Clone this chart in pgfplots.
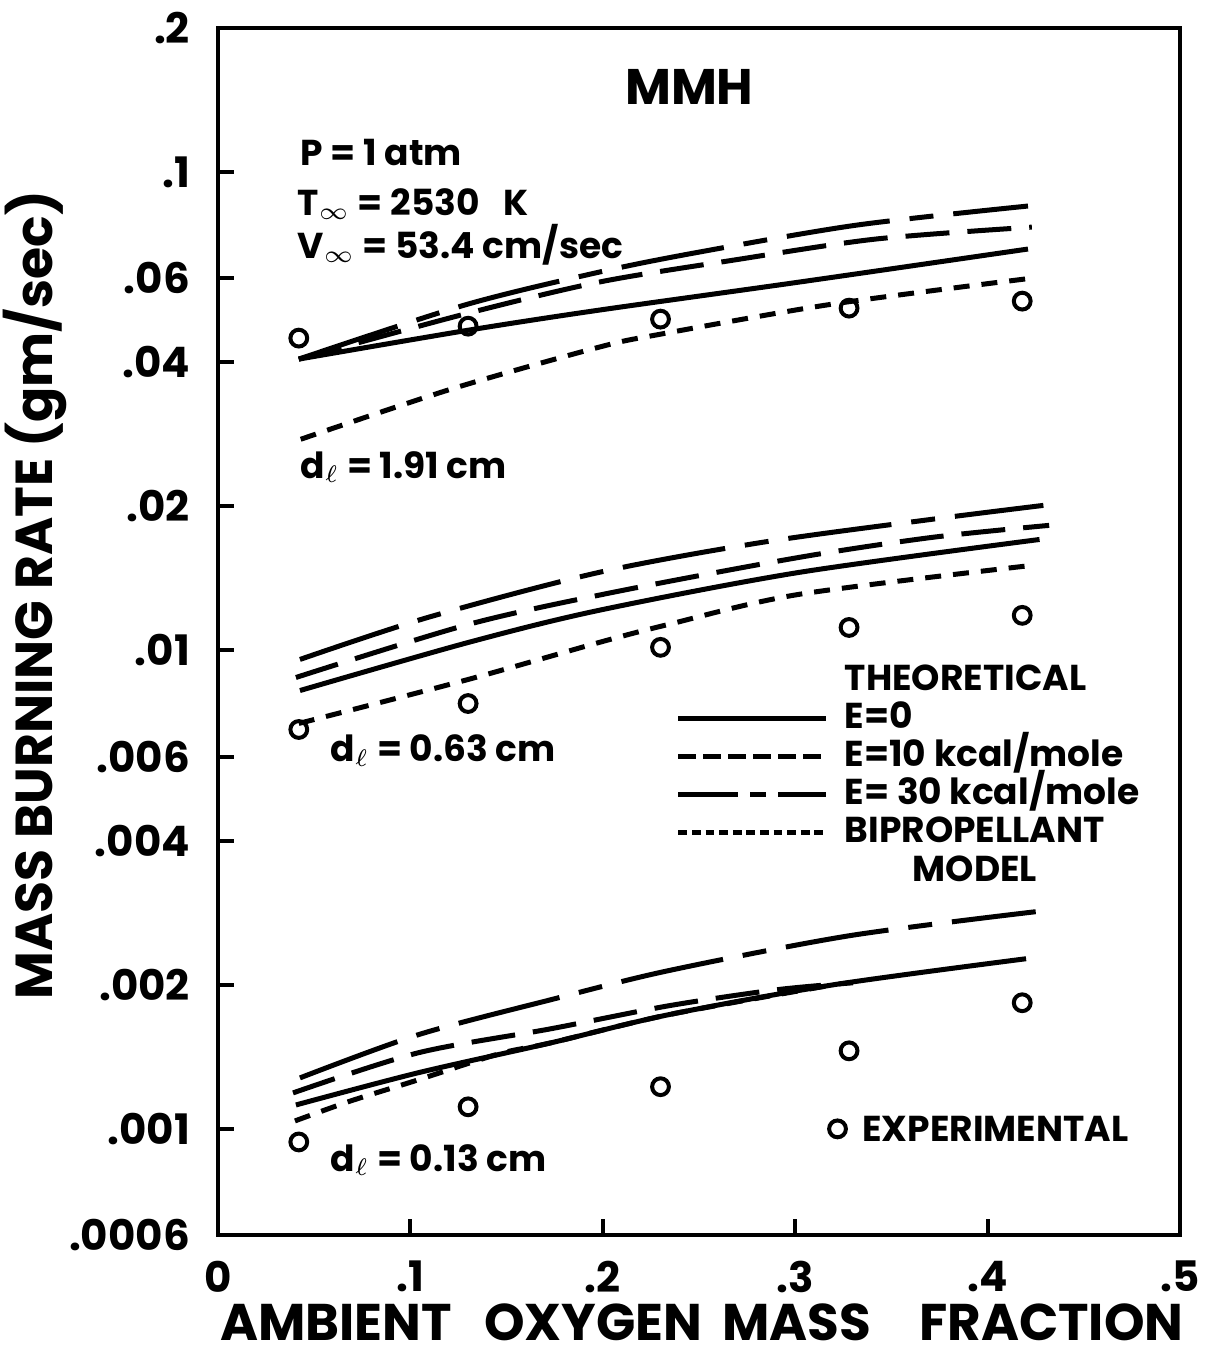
\documentclass[border=0pt]{standalone}
\usepackage{pgfplots}
\pgfplotsset{compat=1.18}
\usepackage{fontspec}
\setmainfont{Poppins}

\pgfplotsset{
  e0/.style={black, line width=1.25pt, solid},
  e10/.style={black, line width=1.25pt, dash pattern=on 11pt off 4.5pt},
  e30/.style={black, line width=1.25pt, dash pattern=on 26pt off 5pt on 6pt off 5pt},
  bip/.style={black, line width=1.25pt, dash pattern=on 4pt off 3pt},
  exper/.style={black, only marks, mark=o, mark size=2.1pt, mark options={line width=1pt, solid}},
}

\begin{document}
\begin{tikzpicture}
\useasboundingbox (-54.5pt,-30.25pt) rectangle (247.5pt,308.75pt);
\begin{axis}[
  at={(0,0)}, anchor=south west,
  scale only axis, width=240.5pt, height=301.75pt,
  xmin=0, xmax=0.5, ymode=log, ymin=0.0006, ymax=0.2,
  axis line style={line width=1pt},
  tick pos=left, tick align=inside, major tick length=4pt,
  every tick/.style={line width=1pt, black},
  yminorticks=false, xminorticks=false,
  /pgf/number format/assume math mode=true,
  xtick={0,0.1,0.2,0.3,0.4,0.5}, xticklabels={0,.1,.2,.3,.4,.5},
  ytick={0.0006,0.001,0.002,0.004,0.006,0.01,0.02,0.04,0.06,0.1,0.2},
  yticklabels={.0006,.001,.002,.004,.006,.01,.02,.04,.06,.1,.2},
  xticklabel style={font=\bfseries\fontsize{10.5}{12}\selectfont, yshift=-3pt},
  yticklabel style={font=\bfseries\fontsize{10.5}{12}\selectfont, xshift=-3.5pt},
  every axis x label/.style={at={(axis description cs:0.503,-0.072)}, anchor=center},
  every axis y label/.style={at={(axis description cs:-0.19,0.53)}, rotate=90, anchor=center},
  xlabel={AMBIENT\hspace{8pt}OXYGEN\hspace{5pt}MASS\hspace{12pt}FRACTION},
  ylabel={MASS BURNING RATE (gm/sec)},
  xlabel style={font=\bfseries\fontsize{12.9}{14}\selectfont, inner sep=0pt},
  ylabel style={font=\bfseries\fontsize{13}{15}\selectfont},
  legend style={draw=none, fill=none, at={(rel axis cs:0.476,0.474)}, anchor=north west,
    inner sep=0pt, outer sep=0pt, row sep=0.5pt,
    font=\bfseries\fontsize{9}{10.8}\selectfont,
    nodes={inner sep=0pt, text height=7pt, text depth=2pt},
    /tikz/every odd column/.append style={column sep=4pt}},
  legend cell align=left,
  legend image code/.code={\draw[#1] (0pt,0pt) -- (37pt,0pt);},
]

% ---------------- d = 1.91 cm ----------------
\addplot[e30, smooth, forget plot] table {
0.042 0.04064
0.128 0.05269
0.198 0.06176
0.250 0.06801
0.332 0.07746
0.421 0.08490
};
\addplot[e10, smooth, forget plot] table {
0.042 0.04064
0.128 0.05045
0.198 0.05887
0.268 0.06545
0.342 0.07244
0.423 0.07671
};
\addplot[e0, smooth, forget plot] table {
0.042 0.04064
0.130 0.04670
0.198 0.05144
0.302 0.05887
0.421 0.06903
};
\addplot[bip, smooth, forget plot] table {
0.043 0.02763
0.121 0.03516
0.198 0.04304
0.230 0.04582
0.319 0.05293
0.423 0.06000
};
\addplot[exper, forget plot] table {
0.042 0.04496
0.130 0.04762
0.230 0.04926
0.328 0.05194
0.418 0.05372
};

% ---------------- d = 0.63 cm ----------------
\addplot[e30, smooth, forget plot] table {
0.0426 0.009576
0.109 0.01172
0.198 0.01456
0.283 0.01683
0.371 0.01880
0.429 0.02010
};
\addplot[e10, smooth, forget plot] table {
0.0405 0.008780
0.130 0.01133
0.205 0.01322
0.302 0.01565
0.371 0.01723
0.432 0.01826
};
\addplot[e0, smooth, forget plot] table {
0.0426 0.008245
0.130 0.01039
0.198 0.01213
0.302 0.01456
0.427 0.01706
};
\addplot[bip, smooth, forget plot] table {
0.042 0.007037
0.130 0.008696
0.198 0.01039
0.234 0.01133
0.302 0.01310
0.423 0.01506
};
\addplot[exper, forget plot] table {
0.042 0.006836
0.130 0.007747
0.230 0.01015
0.328 0.01117
0.418 0.01184
};

% ---------------- d = 0.13 cm ----------------
\addplot[e30, smooth, forget plot] table {
0.0426 0.001278
0.104 0.001573
0.173 0.001862
0.234 0.002141
0.328 0.002533
0.425 0.002844
};
\addplot[e10, smooth, forget plot] table {
0.039 0.001189
0.104 0.001442
0.173 0.001619
0.234 0.001808
0.290 0.001953
0.330 0.002020
};
\addplot[bip, smooth, forget plot] table {
0.040 0.001039
0.069 0.001144
0.104 0.001266
0.146 0.001435
0.173 0.001513
0.234 0.001732
0.320 0.002001
};
\addplot[e0, smooth, forget plot] table {
0.0405 0.001122
0.104 0.001310
0.173 0.001513
0.234 0.001732
0.320 0.002001
0.420 0.002268
};
\addplot[exper, forget plot] table {
0.042 0.000939
0.130 0.001112
0.230 0.001225
0.328 0.001456
0.418 0.001835
};

% experimental legend marker
\addplot[exper, forget plot] coordinates {(0.322,0.001)};
\node[anchor=west, font=\bfseries\fontsize{9}{10.8}\selectfont, inner sep=0pt] at (axis cs:0.3345,0.001) {EXPERIMENTAL};

% legend
\addlegendimage{empty legend}
\addlegendentry{THEORETICAL}
\addlegendimage{black, line width=1.25pt}
\addlegendentry{E=0}
\addlegendimage{black, line width=1.25pt, dash pattern=on 4.5pt off 1.75pt}
\addlegendentry{E=10 kcal/mole}
\addlegendimage{black, line width=1.25pt, dash pattern=on 15pt off 3pt on 4pt off 3pt}
\addlegendentry{E= 30 kcal/mole}
\addlegendimage{black, line width=1.25pt, dash pattern=on 2.2pt off 1.2pt}
\addlegendentry{\begin{tabular}[t]{@{}c@{}}BIPROPELLANT\\[-1.2pt]MODEL\end{tabular}}

% annotations
\node[font=\bfseries\fontsize{12.5}{14}\selectfont] at (axis cs:0.245,0.1506) {MMH};
\node[anchor=west, font=\bfseries\fontsize{9}{10.8}\selectfont, inner sep=0pt] at (axis cs:0.0426,0.1101) {P = 1 atm};
\node[anchor=west, font=\bfseries\fontsize{9}{10.8}\selectfont, inner sep=0pt] at (axis cs:0.041,0.0857) {T$_\infty$ = 2530\hspace{6pt}K};
\node[anchor=west, font=\bfseries\fontsize{9}{10.8}\selectfont, inner sep=0pt] at (axis cs:0.041,0.0704) {V$_\infty$ = 53.4 cm/sec};
\node[anchor=west, font=\bfseries\fontsize{9}{10.8}\selectfont, inner sep=0pt] at (axis cs:0.0426,0.02415) {d$_\ell$ = 1.91 cm};
\node[anchor=west, font=\bfseries\fontsize{9}{10.8}\selectfont, inner sep=0pt] at (axis cs:0.0582,0.006177) {d$_\ell$ = 0.63 cm};
\node[anchor=west, font=\bfseries\fontsize{9}{10.8}\selectfont, inner sep=0pt] at (axis cs:0.0582,0.000861) {d$_\ell$ = 0.13 cm};
\end{axis}
\end{tikzpicture}
\end{document}
